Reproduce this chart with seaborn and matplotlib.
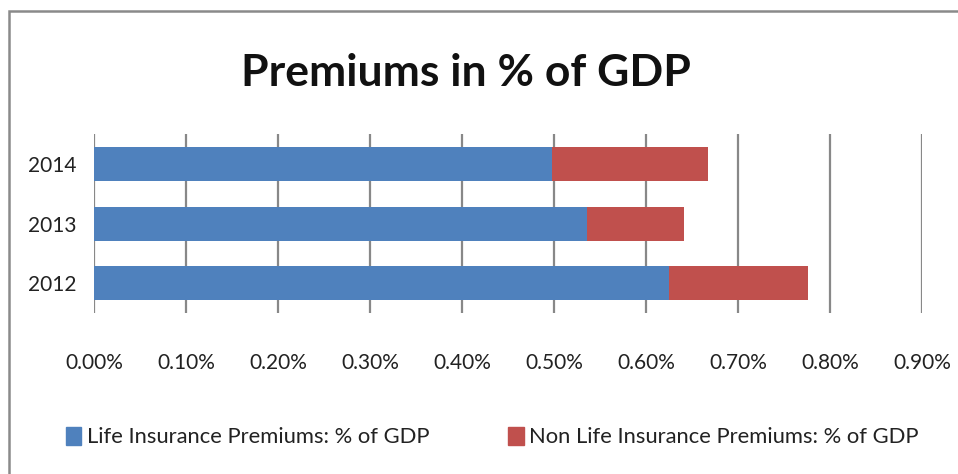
import matplotlib
matplotlib.use("Agg")
import matplotlib.pyplot as plt
import matplotlib.patches as mpatches
import seaborn as sns
import pandas as pd
from matplotlib.ticker import FuncFormatter

years = ["2014", "2013", "2012"]
life = [0.498, 0.536, 0.625]
non_life = [0.169, 0.105, 0.151]
x_ticks = [0.0, 0.1, 0.2, 0.3, 0.4, 0.5, 0.6, 0.7, 0.8, 0.9]

life_label = "Life Insurance Premiums: % of GDP"
non_life_label = "Non Life Insurance Premiums: % of GDP"
title = "Premiums in % of GDP"

blue = "#4F81BD"
red = "#C0504D"

sns.set_theme(style="white")
plt.rcParams["font.family"] = ["Lato", "DejaVu Sans"]

df = pd.DataFrame({"year": years, "life": life, "non_life": non_life})
df["total"] = df["life"] + df["non_life"]

fig = plt.figure(figsize=(9.58, 4.74), dpi=100)
ax = fig.add_axes([0.0984, 0.3397, 0.9624 - 0.0984, 0.7167 - 0.3397])

# stacked bars: full total in red, life share drawn on top in blue
sns.barplot(data=df, x="total", y="year", order=years, color=red,
            saturation=1, width=0.575, ax=ax, orient="h", linewidth=0)
sns.barplot(data=df, x="life", y="year", order=years, color=blue,
            saturation=1, width=0.575, ax=ax, orient="h", linewidth=0)

ax.set_xlim(0, 0.9)
ax.set_ylim(2.5, -0.5)
ax.set_xticks(x_ticks)
ax.xaxis.set_major_formatter(FuncFormatter(lambda v, p: f"{v:.2f}%"))
ax.set_xlabel("")
ax.set_ylabel("")
ax.grid(axis="x", color="#888888", linewidth=1.6)
ax.grid(axis="y", visible=False)
ax.set_axisbelow(True)
for s in ax.spines.values():
    s.set_visible(False)
ax.tick_params(axis="x", length=0, pad=29, labelsize=15, colors="#222222")
ax.tick_params(axis="y", length=0, pad=13, labelsize=15, colors="#222222")

fig.text(0.486, 0.846, title, ha="center", va="center", fontsize=32,
         fontweight="bold", color="#111111")

handles = [mpatches.Patch(color=blue, label=life_label),
           mpatches.Patch(color=red, label=non_life_label)]
fig.legend(handles=handles, loc="center", bbox_to_anchor=(0.514, 0.078),
           ncol=2, frameon=False, fontsize=15.8, handlelength=0.7,
           handleheight=0.9, handletextpad=0.25, columnspacing=3.6,
           labelcolor="#222222")

# outer chart frame
fig.patches.append(mpatches.Rectangle((9 / 958, -0.1), 1.2, 1 - 11 / 474 + 0.1,
                                      transform=fig.transFigure, fill=False,
                                      edgecolor="#8a8a8a", linewidth=1.8))

fig.savefig("out.png", dpi=100)
